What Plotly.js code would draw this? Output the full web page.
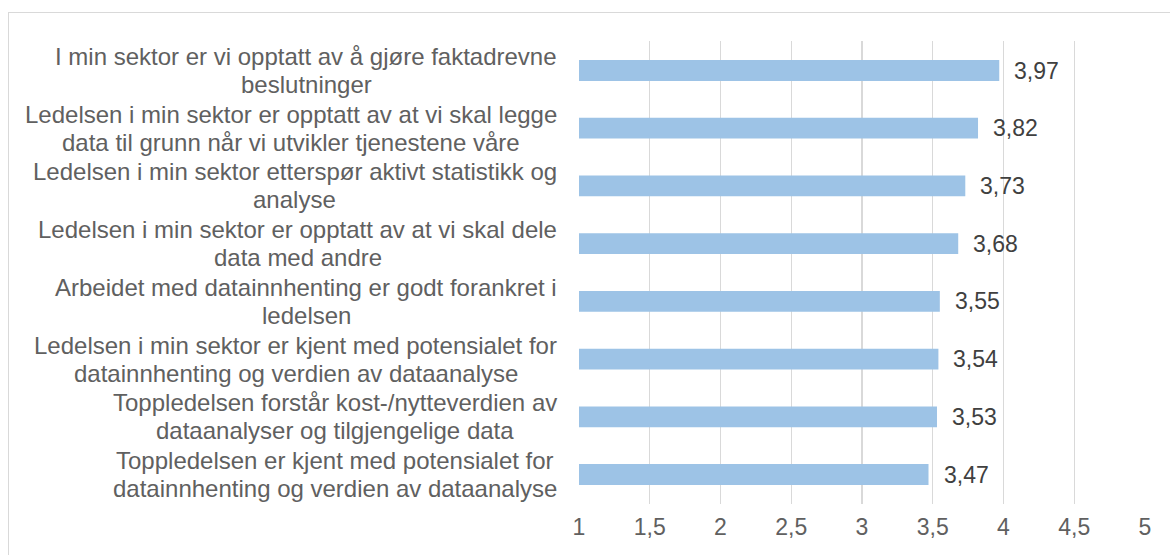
<!DOCTYPE html>
<html>
<head>
<meta charset="utf-8">
<script src="https://cdn.plot.ly/plotly-3.0.1.min.js"></script>
<style>
  html, body { margin: 0; padding: 0; background: #ffffff; overflow: hidden; }
  #frame { position: absolute; left: 8px; top: 12px; width: 1300px; height: 700px; border: 1px solid #d9d9d9; box-sizing: border-box; }
  #chart { position: absolute; left: 0; top: 0; width: 1170px; height: 555px; }
</style>
</head>
<body>
<div id="frame"></div>
<div id="chart"></div>
<script>
const categories = [
  "I min sektor er vi opptatt av å gjøre faktadrevne<br>beslutninger",
  "Ledelsen i min sektor er opptatt av at vi skal legge<br>data til grunn når vi utvikler tjenestene våre",
  "Ledelsen i min sektor etterspør aktivt statistikk og<br>analyse",
  "Ledelsen i min sektor er opptatt av at vi skal dele<br>data med andre",
  "Arbeidet med datainnhenting er godt forankret i<br>ledelsen",
  "Ledelsen i min sektor er kjent med potensialet for<br>datainnhenting og verdien av dataanalyse",
  "Toppledelsen forstår kost-/nytteverdien av<br>dataanalyser og tilgjengelige data",
  "Toppledelsen er kjent med potensialet for<br>datainnhenting og verdien av dataanalyse"
];
const values = [3.97, 3.82, 3.73, 3.68, 3.55, 3.54, 3.53, 3.47];
const tickValues = [1, 1.5, 2, 2.5, 3, 3.5, 4, 4.5, 5];
const tickLabels = ["1", "1,5", "2", "2,5", "3", "3,5", "4", "4,5", "5"];

const FONT = '"Liberation Sans", Arial, sans-serif';
const LABEL_SIZE = 24;
const MARGIN_L = 579, MARGIN_R = 25;
const PLOT_W = 1170 - MARGIN_L - MARGIN_R;
const LABEL_RIGHT = 557; // right edge of label block, in px

const canvas = document.createElement('canvas');
const ctx = canvas.getContext('2d');
ctx.font = LABEL_SIZE + 'px "Liberation Sans", Arial, sans-serif';

const trace = {
  type: 'bar',
  orientation: 'h',
  x: values,
  y: categories,
  marker: { color: '#9DC3E6', line: { width: 0 } },
  hoverinfo: 'x+y'
};

const annotations = [];
categories.forEach((c, i) => {
  const lines = c.split('<br>');
  const w = Math.max(...lines.map(l => ctx.measureText(l).width));
  const centerPx = LABEL_RIGHT - w / 2;
  const xPaper = (centerPx - MARGIN_L) / PLOT_W;
  const shifts = [14, -14];
  lines.forEach((l, k) => {
    annotations.push({
      xref: 'paper', yref: 'y',
      x: xPaper, y: c,
      xanchor: 'center', yanchor: 'middle',
      yshift: shifts[k],
      text: l,
      showarrow: false,
      font: { family: FONT, size: LABEL_SIZE, color: '#606060' }
    });
  });
  annotations.push({
    xref: 'x', yref: 'y',
    x: values[i], y: c,
    xanchor: 'left', yanchor: 'middle',
    xshift: 13,
    text: values[i].toFixed(2).replace('.', ','),
    showarrow: false,
    font: { family: FONT, size: 23, color: '#404040' }
  });
});

const layout = {
  width: 1170,
  height: 555,
  margin: { l: MARGIN_L, r: MARGIN_R, t: 41, b: 51, pad: 0 },
  paper_bgcolor: 'rgba(0,0,0,0)',
  plot_bgcolor: 'rgba(0,0,0,0)',
  showlegend: false,
  bargap: 0.64,
  separators: ', ',
  xaxis: {
    range: [1, 5],
    tickmode: 'array',
    tickvals: tickValues,
    ticktext: tickLabels,
    showgrid: true,
    gridcolor: '#d9d9d9',
    gridwidth: 1.3,
    zeroline: false,
    showline: false,
    ticks: '',
    ticklabelstandoff: 7,
    tickfont: { family: FONT, size: 23, color: '#606060' },
    fixedrange: true
  },
  yaxis: {
    type: 'category',
    autorange: 'reversed',
    showticklabels: false,
    showgrid: false,
    zeroline: false,
    showline: false,
    ticks: '',
    fixedrange: true
  },
  annotations: annotations
};

Plotly.newPlot('chart', [trace], layout, { displayModeBar: false, staticPlot: true });
</script>
</body>
</html>
